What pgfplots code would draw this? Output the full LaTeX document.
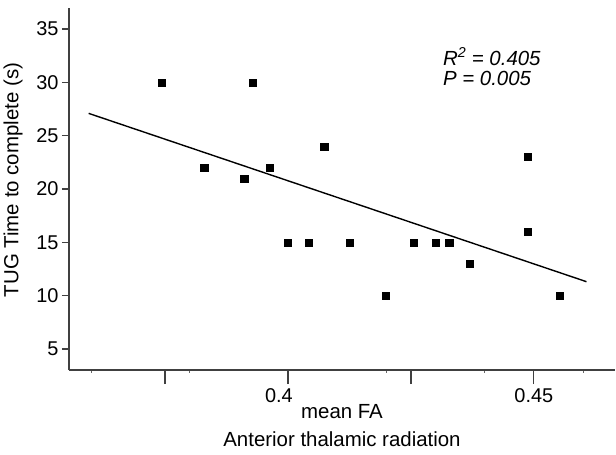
\documentclass[border=0pt]{standalone}
\usepackage{fontspec}
\setmainfont{Liberation Sans}
\usepackage{pgfplots}
\pgfplotsset{compat=1.18}

\begin{document}
\begin{tikzpicture}
\useasboundingbox (-69bp,-85bp) rectangle (547bp,370bp);
\begin{axis}[
  scale only axis, width=546bp, height=362bp,
  xmin=0.3555, xmax=0.4665, ymin=3.03, ymax=36.97,
  axis lines*=left,
  axis line style={draw=black!75, line width=1.3bp},
  tick align=outside,
  xtick={0.375,0.4,0.425,0.45},
  xticklabels={,\hspace*{-18bp}0.4,,0.45},
  minor xtick={0.36,0.38,0.42,0.44,0.46},
  ytick={5,10,...,35},
  major tick length=7bp, minor tick length=2.5bp,
  every major x tick/.append style={/pgfplots/major tick length=14bp},
  tick style={draw=black!75, line width=1.3bp},
  minor tick style={line width=0.6bp, draw=black!60},
  ticklabel style={font=\fontsize{20}{24}\selectfont},
  xticklabel style={yshift=-8bp},
  /pgf/number format/assume math mode=true,
  label style={font=\fontsize{20.5}{28}\selectfont},
  xlabel={mean FA\\Anterior thalamic radiation},
  xlabel style={align=center, at={(axis description cs:0.5,0)}, anchor=north, yshift=-31bp},
  ylabel={TUG Time to complete (s)},
  ylabel style={at={(axis description cs:0,0.5)}, anchor=center, xshift=9bp, yshift=56bp},
  clip=false,
]
% observed points
\addplot[only marks, mark=square*, mark size=3.6bp, black] coordinates {
  (0.3744,30) (0.3929,30) (0.3830,22) (0.3911,21) (0.3963,22)
  (0.4074,24) (0.4000,15) (0.4042,15) (0.4126,15) (0.4255,15)
  (0.4301,15) (0.4328,15) (0.4370,13) (0.4199,10) (0.4487,23)
  (0.4487,16) (0.4553,10)
};
% fitted line
\addplot[black, line width=1.4bp] coordinates {(0.3595,27.09) (0.4607,11.31)};
\node[anchor=base west, font=\fontsize{20.5}{22}\selectfont\itshape, inner sep=0pt]
  at (axis cs:0.4315,31.62) {R\textsuperscript{2} = 0.405};
\node[anchor=base west, font=\fontsize{20.5}{22}\selectfont\itshape, inner sep=0pt]
  at (axis cs:0.4315,29.74) {P = 0.005};
\end{axis}
\end{tikzpicture}
\end{document}
